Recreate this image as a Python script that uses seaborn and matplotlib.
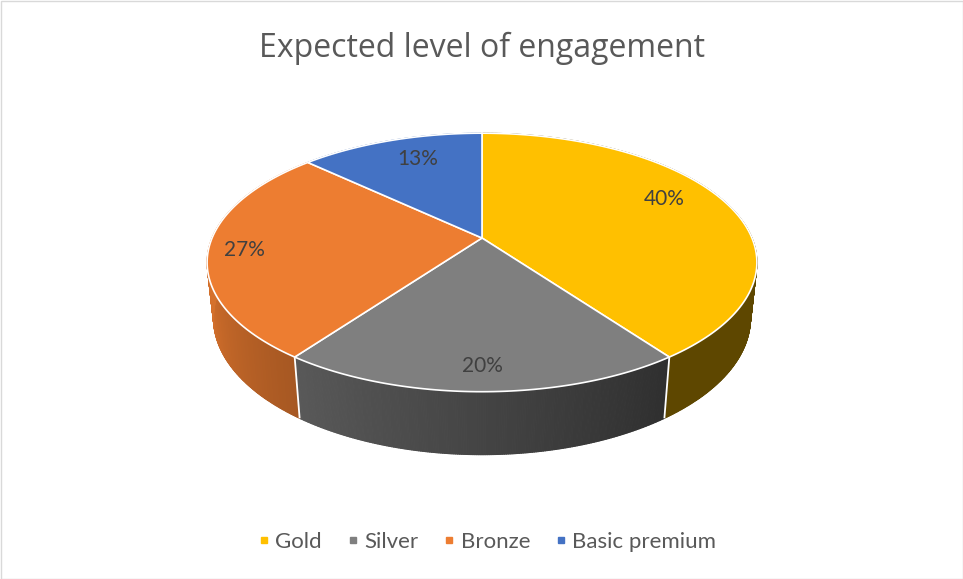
import numpy as np
import matplotlib
matplotlib.use("Agg")
import matplotlib.pyplot as plt
from matplotlib.patches import Polygon, Rectangle
from matplotlib.collections import PolyCollection
from matplotlib.lines import Line2D
import seaborn as sns

# ---------------- data ----------------
categories = ["Gold", "Silver", "Bronze", "Basic premium"]
values = [40, 20, 27, 13]
labels = ["40%", "20%", "27%", "13%"]
colors = ["#FFC000", "#7F7F7F", "#ED7D31", "#4472C4"]
title = "Expected level of engagement"

# ---------------- style ----------------
sns.set_theme(style="white")
plt.rcParams["font.family"] = ["Lato", "DejaVu Sans"]
palette = sns.color_palette(colors)

# 3D projection layout (perspective view of the pie)
ELEV = np.deg2rad(27.5)
DIST = 4.69
FOCAL = 1266.0
DEPTH = 0.234
CX, CY = 482.0, 238.0
LABEL_R = [0.74, 0.86, 0.87, 0.67]
LABEL_DY = [-12, 0, 2, -10]


def proj(x, y, z):
    x = np.asarray(x, float); y = np.asarray(y, float); z = np.asarray(z, float)
    v = y * np.sin(ELEV) + z * np.cos(ELEV)
    w = DIST + y * np.cos(ELEV) - z * np.sin(ELEV)
    return CX + FOCAL * x / w, CY - FOCAL * v / w


def shade(a_deg):
    a = ((a_deg + 270.0) % 360.0) - 270.0
    return float(np.clip(0.37 + 0.33 * (-54.0 - a) / 72.0, 0.37, 0.90))


fig = plt.figure(figsize=(9.63, 5.79), dpi=100)
ax = fig.add_axes([0, 0, 1, 1])
ax.set_xlim(0, 963)
ax.set_ylim(579, 0)
ax.axis("off")

total = float(sum(values))
cum = np.concatenate([[0.0], np.cumsum(values)]) / total
starts = 90.0 - cum[:-1] * 360.0
ends = 90.0 - cum[1:] * 360.0

# side walls
for i in range(len(values)):
    n = max(int(abs(starts[i] - ends[i]) * 3), 8)
    ang = np.linspace(starts[i], ends[i], n + 1)
    rad = np.deg2rad(ang)
    xt, yt = proj(np.cos(rad), np.sin(rad), 0 * rad)
    xb, yb = proj(np.cos(rad), np.sin(rad), 0 * rad - DEPTH)
    polys, fcs = [], []
    base = np.array(palette[i])
    for k in range(n):
        polys.append([(xt[k], yt[k]), (xt[k + 1], yt[k + 1]),
                      (xb[k + 1], yb[k + 1]), (xb[k], yb[k])])
        fcs.append(tuple(base * shade(0.5 * (ang[k] + ang[k + 1]))))
    pc = PolyCollection(polys, facecolors=fcs, edgecolors=fcs, linewidths=0.8,
                        zorder=1)
    ax.add_collection(pc)

# white separators on the side wall
for a in starts:
    r = np.deg2rad(a)
    xs, ys = proj([np.cos(r)] * 2, [np.sin(r)] * 2, [0, -DEPTH])
    ax.plot(xs, ys, color="white", lw=1.3, solid_capstyle="butt", zorder=1.5)

# top face wedges
for i in range(len(values)):
    n = max(int(abs(starts[i] - ends[i])), 4)
    rad = np.deg2rad(np.linspace(starts[i], ends[i], n + 1))
    xs, ys = proj(np.cos(rad), np.sin(rad), 0 * rad)
    px, py = proj(0, 0, 0)
    pts = [(float(px), float(py))] + list(zip(xs, ys))
    ax.add_patch(Polygon(pts, closed=True, facecolor=palette[i],
                         edgecolor="white", lw=1.2, joinstyle="miter", zorder=2))

# data labels
for i in range(len(values)):
    mid = np.deg2rad(0.5 * (starts[i] + ends[i]))
    lx, ly = proj(LABEL_R[i] * np.cos(mid), LABEL_R[i] * np.sin(mid), 0)
    ax.text(float(lx), float(ly) + LABEL_DY[i], labels[i], ha="center", va="center",
            fontsize=15, color="#404040", zorder=3)

# title
ax.text(482, 57, title, ha="center", va="baseline", fontsize=23,
        color="#595959", family=["Open Sans", "DejaVu Sans"], zorder=3)

# legend
handles = [Line2D([0], [0], marker="s", linestyle="none", markersize=5,
                  markerfacecolor=palette[i], markeredgecolor=palette[i])
           for i in range(len(values))]
fig.legend(handles, categories, loc="center", ncol=4,
           bbox_to_anchor=(488 / 963, 1 - 542 / 579), frameon=False,
           fontsize=16, labelcolor="#595959", handlelength=0.4,
           handletextpad=0.3, columnspacing=1.2)

# chart border
ax.add_patch(Rectangle((0.5, 0.5), 962, 578, fill=False, edgecolor="#D9D9D9",
                       lw=1, zorder=4))

fig.savefig("out.png", dpi=100)
